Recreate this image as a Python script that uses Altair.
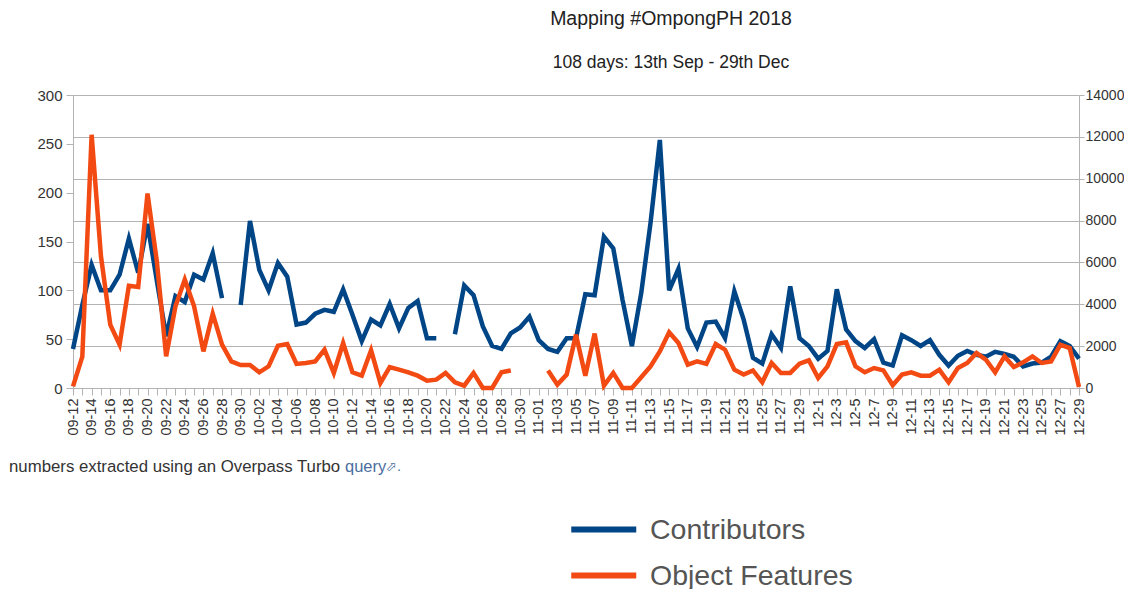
import altair as alt
import pandas as pd

days = ["09-12","09-13","09-14","09-15","09-16","09-17","09-18","09-19","09-20","09-21","09-22","09-23","09-24","09-25","09-26","09-27","09-28","09-29","09-30",
"10-01","10-02","10-03","10-04","10-05","10-06","10-07","10-08","10-09","10-10","10-11","10-12","10-13","10-14","10-15","10-16","10-17","10-18","10-19","10-20","10-21","10-22","10-23","10-24","10-25","10-26","10-27","10-28","10-29","10-30","10-31",
"11-01","11-02","11-03","11-04","11-05","11-06","11-07","11-08","11-09","11-10","11-11","11-12","11-13","11-14","11-15","11-16","11-17","11-18","11-19","11-20","11-21","11-22","11-23","11-24","11-25","11-26","11-27","11-28","11-29","11-30",
"12-1","12-2","12-3","12-4","12-5","12-6","12-7","12-8","12-9","12-10","12-11","12-12","12-13","12-14","12-15","12-16","12-17","12-18","12-19","12-20","12-21","12-22","12-23","12-24","12-25","12-26","12-27","12-28","12-29"]

contributors = [40,85,126,100,100,116,153,118,168,110,53,94,88,116,111,138,92,None,85,171,121,100,128,114,65,67,76,80,78,101,
75,48,70,64,86,61,82,89,51,51,None,55,105,95,63,43,40,56,62,73,49,40,37,51,51,96,95,155,143,90,43,97,169,254,100,122,61,42,67,68,
51,99,70,31,25,55,41,104,51,43,30,38,101,60,48,41,50,26,23,54,49,43,49,34,23,33,38,34,32,37,35,32,22,25,26,32,48,43,30]

features = [80,1500,12100,6300,3030,2070,4890,4830,9290,6050,1510,3900,5180,3900,1750,3550,2070,1270,1100,1100,750,1035,2020,2100,1150,1195,1270,1830,720,2150,
750,590,1800,240,1000,875,750,590,350,400,720,270,110,720,0,0,750,840,None,None,None,840,160,640,2550,590,2600,110,720,0,0,510,1035,1750,2660,2150,1115,1270,1150,2100,
1830,875,640,840,270,1195,720,720,1160,1320,480,1035,2100,2180,1035,750,955,840,130,640,750,590,590,875,270,955,1195,1670,1350,750,1510,1000,1225,1510,1195,1270,2070,1910,50]

left_ticks = [0, 50, 100, 150, 200, 250, 300]
right_ticks = [0, 2000, 4000, 6000, 8000, 10000, 12000, 14000]
series_names = ["Contributors", "Object Features"]
series_colors = ["#004586", "#f24a12"]

df = pd.DataFrame({"day": days, "contributors": contributors, "features": features})
df["contributors"] = df["contributors"].astype(object).where(df["contributors"].notna(), None)
df["features"] = df["features"].astype(object).where(df["features"].notna(), None)

FONT = "Liberation Sans"
x = alt.X("day:O", sort=None, title=None,
          scale=alt.Scale(type="point", padding=0),
          axis=alt.Axis(labelAngle=270, labelAlign="right", labelBaseline="middle", labelFontSize=14.5,
                        labelColor="#333333", labelFont=FONT, labelOverlap=False, labelPadding=3,
                        tickColor="#b3b3b3", tickSize=7, domainColor="#b3b3b3", grid=False,
                        labelExpr="round(datum.index*108)%2==0 ? datum.label : ''"))
color = alt.Color("s:N", title=None,
                  scale=alt.Scale(domain=series_names, range=series_colors),
                  legend=alt.Legend(orient="none", legendX=495, legendY=415, symbolType="M-1,0H3",
                                    symbolSize=1056, symbolStrokeWidth=6, labelFontSize=28.5, labelFont=FONT,
                                    labelColor="#555555", labelOffset=43, rowPadding=12, labelLimit=400))

line_left = alt.Chart(df).transform_calculate(s="'Contributors'").mark_line(strokeWidth=4.5, strokeJoin="miter").encode(
    x=x,
    y=alt.Y("contributors:Q", title=None,
            scale=alt.Scale(domain=[0, 300], nice=False),
            axis=alt.Axis(values=left_ticks, grid=False, labelFontSize=15, labelColor="#333333", labelFont=FONT,
                          tickColor="#b3b3b3", tickSize=7, domainColor="#b3b3b3", labelPadding=4)),
    color=color)

line_right = alt.Chart(df).transform_calculate(s="'Object Features'").mark_line(strokeWidth=4.5, strokeJoin="miter").encode(
    x=x,
    y=alt.Y("features:Q", title=None,
            scale=alt.Scale(domain=[0, 14000], nice=False),
            axis=alt.Axis(orient="right", values=right_ticks, format="d", grid=True, gridColor="#b3b3b3", gridOpacity=1,
                          labelFontSize=14, labelColor="#333333", labelFont=FONT,
                          tickColor="#b3b3b3", tickSize=5, domainColor="#b3b3b3", labelPadding=1)),
    color=color)

caption = alt.Chart(pd.DataFrame({"t": ["numbers extracted using an Overpass Turbo"]})).mark_text(
    align="left", baseline="middle", fontSize=16.8, font=FONT, color="#333333"
).encode(text="t:N", x=alt.value(-64), y=alt.value(372))

link = alt.Chart(pd.DataFrame({"t": ["query"]})).mark_text(
    align="left", baseline="middle", fontSize=16.5, font=FONT, color="#4a6ea0"
).encode(text="t:N", x=alt.value(272), y=alt.value(372))

link_end = alt.Chart(pd.DataFrame({"t": ["\u2b00."]})).mark_text(
    align="left", baseline="middle", fontSize=13, font="DejaVu Sans", color="#4a6ea0"
).encode(text="t:N", x=alt.value(313), y=alt.value(372))

chart = alt.layer(line_left, line_right, caption, link, link_end).resolve_scale(y="independent").properties(
    width=1006, height=293,
    padding={"left": 65, "top": 87, "right": 45, "bottom": 201},
    autosize="none",
    title=alt.TitleParams("Mapping #OmpongPH 2018", subtitle="108 days: 13th Sep - 29th Dec",
                          anchor="middle", dx=95, offset=16, fontSize=19.5, fontWeight="normal", font=FONT,
                          color="#222222", subtitleFont=FONT, subtitleFontSize=17.5, subtitleColor="#222222",
                          subtitlePadding=24),
).configure_view(stroke=None)

chart.save("out.html", embed_options={"renderer": "svg", "actions": False})
